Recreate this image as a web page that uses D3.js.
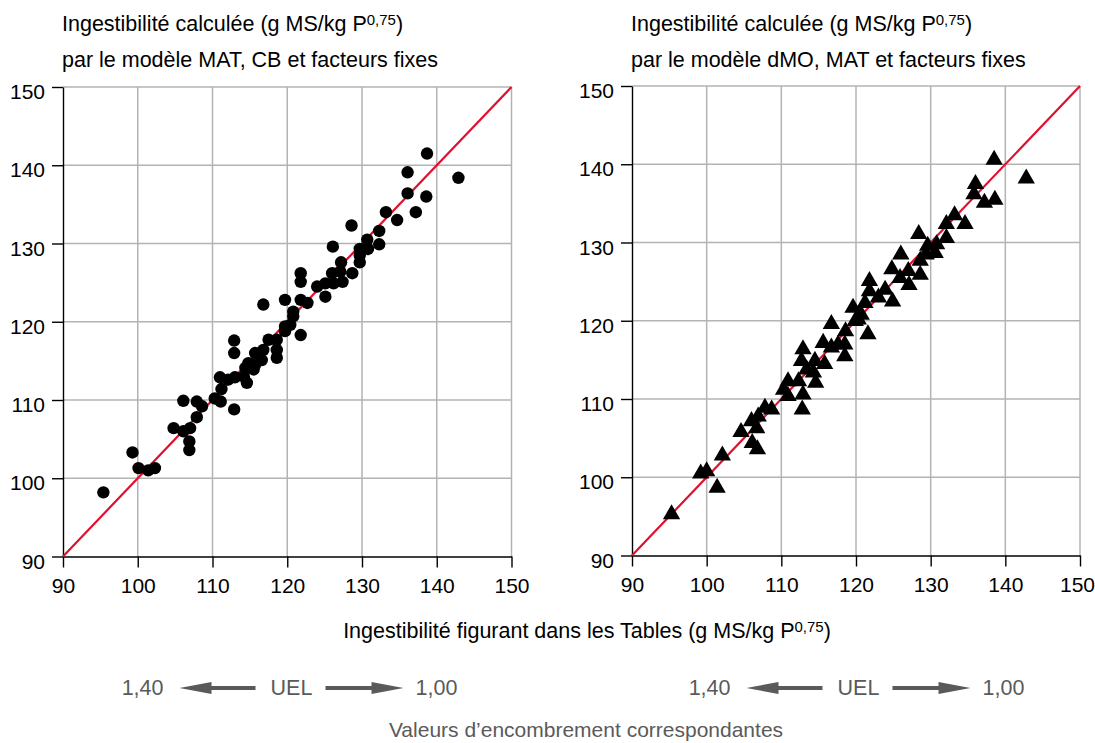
<!DOCTYPE html>
<html>
<head>
<meta charset="utf-8">
<script src="https://cdn.jsdelivr.net/npm/d3@7/dist/d3.min.js"></script>
<style>
  body { margin: 0; background: #fff; }
  text { font-family: "Liberation Sans", Arial, sans-serif; }
</style>
</head>
<body>
<svg id="mainsvg" width="1095" height="743"></svg>
<script>
// ticks shared by both panels
const ticks = [90, 100, 110, 120, 130, 140, 150];

// left panel: model MAT, CB + fixed factors (x = Tables, y = calculated)
const matCb = [
  [95.4, 98.2], [99.3, 103.3], [100.1, 101.3], [101.4, 101.0], [102.3, 101.3],
  [104.8, 106.4], [106.1, 109.9], [106.1, 106.0], [107.0, 106.4], [106.9, 104.7], [106.9, 103.6],
  [107.9, 109.8], [108.6, 109.2], [107.9, 107.8], [110.3, 110.2], [111.1, 109.8], [111.2, 111.4], [111.0, 112.9],
  [112.9, 117.6], [112.9, 116.0], [112.9, 108.8], [112.1, 112.6], [113.0, 112.9], [114.2, 113.0], [114.6, 112.2],
  [114.4, 114.1], [114.8, 114.7], [115.7, 114.5], [115.5, 113.9], [115.7, 116.0], [116.6, 115.1], [116.8, 116.4],
  [117.5, 117.7], [118.6, 117.7], [118.6, 116.4], [118.6, 115.4], [119.7, 118.8], [119.7, 119.4], [120.4, 119.6],
  [120.8, 120.7], [120.8, 121.3], [121.8, 118.3], [116.8, 122.2], [119.7, 122.8], [121.8, 122.8], [122.7, 122.4],
  [121.8, 126.2], [121.8, 125.1], [124.0, 124.5], [125.1, 124.9], [125.1, 123.2], [126.2, 124.9], [127.4, 125.1],
  [126.0, 126.2], [127.1, 126.4], [128.7, 126.2], [127.2, 127.6], [129.7, 127.6], [129.7, 128.5], [126.1, 129.6],
  [129.7, 129.3], [130.8, 129.3], [132.3, 129.9], [130.7, 130.5], [132.3, 131.6], [128.6, 132.3], [134.7, 133.0],
  [133.2, 134.0], [137.2, 134.0], [136.1, 136.4], [138.6, 136.0], [136.1, 139.1], [138.7, 141.5], [142.9, 138.4]
];

// right panel: model dMO, MAT + fixed factors
const dmoMat = [
  [95.3, 95.4], [99.2, 100.6], [100.0, 100.9], [101.4, 98.8], [102.1, 102.9], [104.6, 105.9], [106.0, 107.3],
  [106.9, 107.9], [106.7, 106.4], [106.1, 104.5], [106.8, 103.7], [107.8, 109.0], [108.7, 108.8], [110.9, 112.4],
  [110.3, 111.3], [110.9, 110.5], [112.3, 112.4], [112.9, 116.5], [112.7, 115.0], [112.9, 110.7], [112.8, 108.8],
  [113.4, 113.9], [114.5, 115.0], [114.6, 112.2], [114.3, 113.5], [115.8, 114.6], [115.6, 117.3], [116.7, 119.7],
  [116.7, 116.7], [117.6, 117.1], [118.5, 115.6], [118.5, 117.1], [118.6, 118.8], [119.6, 121.8], [120.3, 120.3],
  [120.7, 120.9], [121.6, 118.4], [119.9, 120.1], [121.2, 122.4], [121.8, 125.2], [121.8, 123.9], [123.0, 123.1],
  [124.9, 122.6], [123.9, 124.1], [124.8, 126.7], [126.0, 128.6], [127.0, 126.5], [125.9, 125.6], [128.6, 126.0],
  [127.1, 124.7], [128.6, 127.8], [129.4, 128.6], [130.6, 128.8], [129.6, 129.7], [130.8, 129.9], [128.4, 131.2],
  [132.1, 130.7], [132.1, 132.5], [134.6, 132.5], [133.2, 133.6], [136.0, 137.6], [135.8, 136.3], [137.2, 135.2],
  [138.6, 135.6], [138.5, 140.7], [142.8, 138.3]
];

const titleLine1 = 'Ingestibilité calculée (g MS/kg P';
const titlesLine2 = ['par le modèle MAT, CB et facteurs fixes', 'par le modèle dMO, MAT et facteurs fixes'];
const xTitle = 'Ingestibilité figurant dans les Tables (g MS/kg P';
const uelLabels = ['1,40', 'UEL', '1,00'];
const footer = 'Valeurs d\u2019encombrement correspondantes';

const svg = d3.select('#mainsvg');
const grey = '#5a5a5a';
const fs = 21.5;

const panels = [
  { data: matCb, left: 63, top: 87, w: 448.5, h: 469.5, mark: 'circle', sub: titlesLine2[0], uel: 291.5 },
  { data: dmoMat, left: 632, top: 86, w: 448, h: 469.5, mark: 'triangle', sub: titlesLine2[1], uel: 858.5 }
];

const sup = (sel, base, size, lift) => {
  sel.append('tspan').text(base);
  sel.append('tspan').text('0,75').attr('font-size', size).attr('dy', -lift);
  sel.append('tspan').text(')').attr('dy', lift);
};

panels.forEach((p, i) => {
  const x = d3.scaleLinear().domain([90, 150]).range([0, p.w]);
  const y = d3.scaleLinear().domain([90, 150]).range([p.h, 0]);
  const g = svg.append('g').attr('transform', `translate(${p.left}, ${p.top})`);

  // grid
  g.append('g').selectAll('line').data(ticks.slice(1)).join('line')
    .attr('x1', d => x(d)).attr('x2', d => x(d)).attr('y1', 0).attr('y2', p.h)
    .attr('stroke', '#b3b3b3').attr('stroke-width', 1.5);
  g.append('g').selectAll('line').data(ticks.slice(1)).join('line')
    .attr('x1', 0).attr('x2', p.w).attr('y1', d => y(d)).attr('y2', d => y(d))
    .attr('stroke', '#b3b3b3').attr('stroke-width', 1.5);

  // axes
  const xAxis = d3.axisBottom(x).tickValues(ticks).tickSize(11).tickPadding(11).tickSizeOuter(0);
  const yAxis = d3.axisLeft(y).tickValues(ticks).tickSize(11).tickPadding(7).tickSizeOuter(0);
  const gx = g.append('g').attr('transform', `translate(0, ${p.h})`).call(xAxis);
  const gy = g.append('g').call(yAxis);
  [gx, gy].forEach(a => {
    a.selectAll('path, line').attr('stroke', '#000').attr('stroke-width', 1.4);
    a.selectAll('text').attr('font-size', 21).attr('fill', '#000')
      .attr('font-family', '"Liberation Sans", Arial, sans-serif');
  });
  gy.selectAll('text').attr('dy', '0.55em');
  if (i === 1) gx.selectAll('text').filter(d => d === 150).attr('dx', -3);

  // 1:1 line
  g.append('line')
    .attr('x1', x(90)).attr('y1', y(90)).attr('x2', x(150)).attr('y2', y(150))
    .attr('stroke', '#e0102f').attr('stroke-width', 2.2);

  // points
  if (p.mark === 'circle') {
    g.append('g').selectAll('circle').data(p.data).join('circle')
      .attr('cx', d => x(d[0])).attr('cy', d => y(d[1])).attr('r', 6.2).attr('fill', '#000');
  } else {
    const tri = d3.symbol().type(d3.symbolTriangle).size(130);
    g.append('g').selectAll('path').data(p.data).join('path')
      .attr('d', tri)
      .attr('transform', d => `translate(${x(d[0])}, ${y(d[1]) + 1})`)
      .attr('fill', '#000');
  }

  // titles
  const t1 = svg.append('text').attr('x', p.left - 1).attr('y', 31)
    .attr('font-size', fs).attr('fill', '#000');
  sup(t1, titleLine1, 15, 6.5);
  svg.append('text').attr('x', p.left - 1).attr('y', 67)
    .attr('font-size', fs).attr('fill', '#000').text(p.sub);

  // UEL arrows row
  const row = svg.append('g').attr('transform', `translate(${p.uel}, 695)`);
  row.append('text').attr('x', -128).attr('text-anchor', 'end').attr('font-size', fs)
    .attr('fill', grey).text(uelLabels[0]);
  row.append('text').attr('x', 0).attr('text-anchor', 'middle').attr('font-size', fs)
    .attr('fill', grey).text(uelLabels[1]);
  row.append('text').attr('x', 124).attr('font-size', fs)
    .attr('fill', grey).text(uelLabels[2]);
  // left arrow
  row.append('line').attr('x1', -36).attr('x2', -84).attr('y1', -7).attr('y2', -7)
    .attr('stroke', grey).attr('stroke-width', 4);
  row.append('path').attr('d', 'M-112,-7 L-80,-13 L-80,-1 Z').attr('fill', grey);
  // right arrow
  row.append('line').attr('x1', 34).attr('x2', 82).attr('y1', -7).attr('y2', -7)
    .attr('stroke', grey).attr('stroke-width', 4);
  row.append('path').attr('d', 'M112,-7 L80,-13 L80,-1 Z').attr('fill', grey);
});

// common x title
const xt = svg.append('text').attr('x', 587).attr('y', 638).attr('text-anchor', 'middle')
  .attr('font-size', fs).attr('fill', '#000');
sup(xt, xTitle, 15, 6.5);

svg.append('text').attr('x', 586).attr('y', 737).attr('text-anchor', 'middle')
  .attr('font-size', 21).attr('fill', grey).text(footer);
</script>
</body>
</html>
